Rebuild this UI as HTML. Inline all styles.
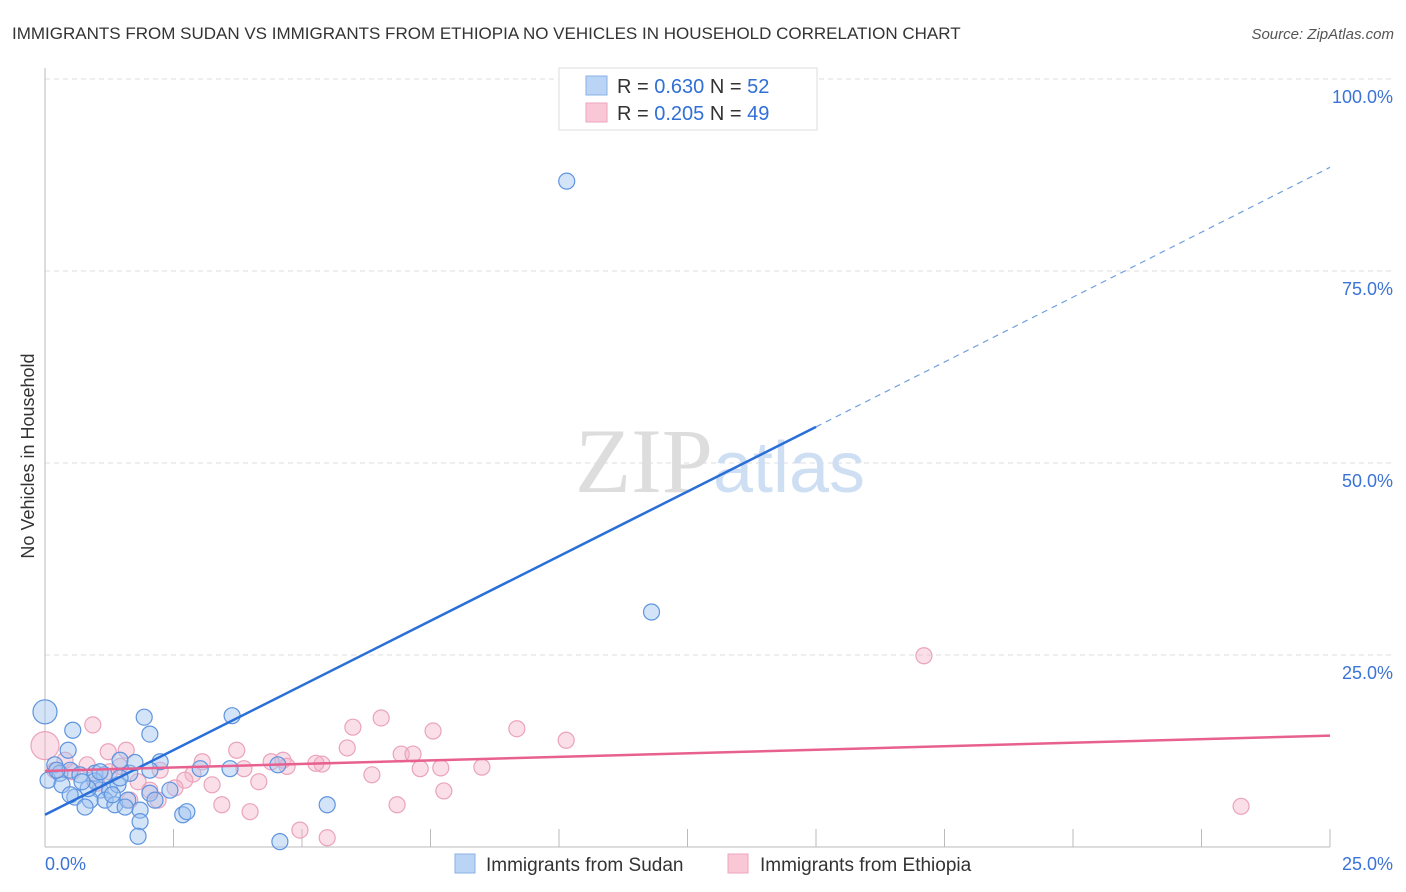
<!DOCTYPE html>
<html><head><meta charset="utf-8"><style>
body{margin:0;background:#fff;font-family:"Liberation Sans",sans-serif;}
svg{display:block}
</style></head><body>
<svg id="chart" width="1406" height="892">
<text x="12" y="39" font-size="17" fill="#333">IMMIGRANTS FROM SUDAN VS IMMIGRANTS FROM ETHIOPIA NO VEHICLES IN HOUSEHOLD CORRELATION CHART</text>
<text x="1394" y="39" font-size="15" fill="#555" font-style="italic" text-anchor="end">Source: ZipAtlas.com</text>
<text x="34" y="456" font-size="18" fill="#333" text-anchor="middle" transform="rotate(-90 34 456)">No Vehicles in Household</text>
<g id="grid"></g>
<text x="720" y="492" font-size="92" fill="#ddd" text-anchor="middle" font-family="Liberation Serif,serif">ZIP<tspan fill="#cfdff3" font-family="Liberation Sans,sans-serif" font-size="72">atlas</tspan></text>
<g id="points"></g>
<g id="trends"></g>
<g>
<rect x="559" y="68" width="258" height="62" fill="#fff" stroke="#ddd"/>
<rect x="586" y="76" width="21" height="19" fill="#b9d4f5" stroke="#8ab2e6"/>
<text x="617" y="93" font-size="20" fill="#333">R = <tspan fill="#2f6fd6">0.630</tspan>   N = <tspan fill="#2f6fd6">52</tspan></text>
<rect x="586" y="103" width="21" height="19" fill="#fac7d6" stroke="#eea6bd"/>
<text x="617" y="120" font-size="20" fill="#333">R = <tspan fill="#2f6fd6">0.205</tspan>   N = <tspan fill="#2f6fd6">49</tspan></text>
</g>
<g>
<rect x="455" y="854" width="20" height="19" fill="#b9d4f5" stroke="#8ab2e6"/>
<text x="486" y="871" font-size="19" fill="#333">Immigrants from Sudan</text>
<rect x="728" y="854" width="20" height="19" fill="#fac7d6" stroke="#eea6bd"/>
<text x="760" y="871" font-size="19" fill="#333">Immigrants from Ethiopia</text>
</g>
</svg>
<script>
const yTicks=[25,50,75,100];
const yTickLabels=["25.0%","50.0%","75.0%","100.0%"];
const xTickLabels=["0.0%","25.0%"];
const sudanX=[0,10.15,11.8,3.64,1.93,2.04,0.54,0.45,0.06,0.19,0.29,0.49,0.68,0.97,1.07,1.26,1.46,1.65,2.04,2.24,1.75,0.33,0.58,0.88,1.17,1.36,1.61,1.85,0.78,0.49,1.42,2.14,1.85,1.81,2.68,2.76,3.6,4.53,4.57,5.49,1.15,1.46,0.97,0.84,2.04,0.23,1.07,2.43,3.02,1.31,1.56,0.72];
const sudanY=[17.6,86.7,30.6,17.1,16.9,14.7,15.2,12.6,8.7,10.7,9.6,10.0,9.4,9.6,7.4,7.4,11.3,9.6,7.0,11.1,11.0,8.1,6.5,6.1,6.1,5.5,6.1,4.8,5.2,6.8,8.1,6.1,3.3,1.4,4.2,4.6,10.2,10.7,0.7,5.5,9.4,9.0,8.6,7.6,10.0,10.0,9.8,7.4,10.2,6.8,5.2,8.5];
const ethX=[0,17.1,23.27,10.14,9.18,7.55,6.54,5.99,6.93,5.88,7.16,7.7,8.5,7.76,7.3,6.36,6.85,5.39,5.27,4.96,5.49,4.63,4.4,4.71,3.73,3.87,4.16,3.99,3.44,3.25,3.06,2.88,2.72,2.53,2.24,2.2,1.58,1.23,0.93,0.82,0.53,0.19,0.39,1.26,1.81,1.65,2.04,1.01,1.46];
const ethY=[13.2,24.9,5.3,13.9,15.4,15.1,16.8,15.6,12.1,12.9,12.1,10.3,10.4,7.3,10.2,9.4,5.5,10.8,10.9,2.2,1.2,11.3,11.1,10.5,12.6,10.2,8.5,4.6,5.5,8.1,11.1,9.5,8.7,7.7,10.0,6.1,12.6,12.4,15.9,10.7,9.8,10.0,11.3,9.8,8.5,6.1,7.4,8.3,10.5];
const sudanTrend=[[0,4.2],[15,54.7],[25,88.5]];
const ethTrend=[[0,9.9],[25,14.5]];
const X0=45,X1=1330,Y0=847,Y100=79;
const sx=v=>X0+(X1-X0)*v/25, sy=v=>Y0-(Y0-Y100)*v/100;
const NS="http://www.w3.org/2000/svg";
function mk(tag,attrs,parent){const e=document.createElementNS(NS,tag);for(const k in attrs)e.setAttribute(k,attrs[k]);parent.appendChild(e);return e;}
const grid=document.getElementById('grid'),svg=document.getElementById('chart');
yTicks.forEach((t,i)=>{
 const l=mk('line',{x1:X0,x2:1395,y1:sy(t),y2:sy(t),stroke:'#ddd','stroke-dasharray':'5,4'},grid);
 
 
 const tx=mk('text',{x:1393,y:sy(t)+24,'font-size':18,fill:'#3b73d6','text-anchor':'end'},grid);
 tx.textContent=yTickLabels[i];
 
 
});
const ax=mk('line',{x1:X0,x2:X0,y1:68,y2:Y0,stroke:'#bbb'},grid);


const bx=mk('line',{x1:X0,x2:X1,y1:Y0,y2:Y0,stroke:'#bbb'},grid);


for(let i=1;i<=10;i++){
 const x=sx(i*2.5);
 const t=mk('line',{x1:x,x2:x,y1:Y0-18,y2:Y0,stroke:'#bbb'},grid);
 
 
}
[[0,'start',45],[25,'end',1393]].forEach((d,i)=>{
 const t=mk('text',{x:d[2],y:870,'font-size':18,fill:'#3b73d6','text-anchor':d[1]},grid);
 t.textContent=xTickLabels[i];
 
 
});
const pts=document.getElementById('points');
ethX.forEach((v,i)=>{
 const c=mk('circle',{cx:sx(v),cy:sy(ethY[i]),r:i==0?14:8,fill:'rgba(246,175,198,0.4)',stroke:'#eaa3bb','stroke-width':1.2},pts);
 
 
});
sudanX.forEach((v,i)=>{
 const c=mk('circle',{cx:sx(v),cy:sy(sudanY[i]),r:i==0?12:8,fill:'rgba(160,196,240,0.45)',stroke:'#5f94de','stroke-width':1.2},pts);
 
 
});
const tr=document.getElementById('trends');
const s1=mk('line',{x1:sx(sudanTrend[0][0]),y1:sy(sudanTrend[0][1]),x2:sx(sudanTrend[1][0]),y2:sy(sudanTrend[1][1]),stroke:'#2a6fd8','stroke-width':2.5},tr);


const s2=mk('line',{x1:sx(sudanTrend[1][0]),y1:sy(sudanTrend[1][1]),x2:sx(sudanTrend[2][0]),y2:sy(sudanTrend[2][1]),stroke:'#6f9fe0','stroke-width':1.2,'stroke-dasharray':'6,5'},tr);


const e1=mk('line',{x1:sx(ethTrend[0][0]),y1:sy(ethTrend[0][1]),x2:sx(ethTrend[1][0]),y2:sy(ethTrend[1][1]),stroke:'#e8608f','stroke-width':2.5},tr);


</script>
</body></html>
